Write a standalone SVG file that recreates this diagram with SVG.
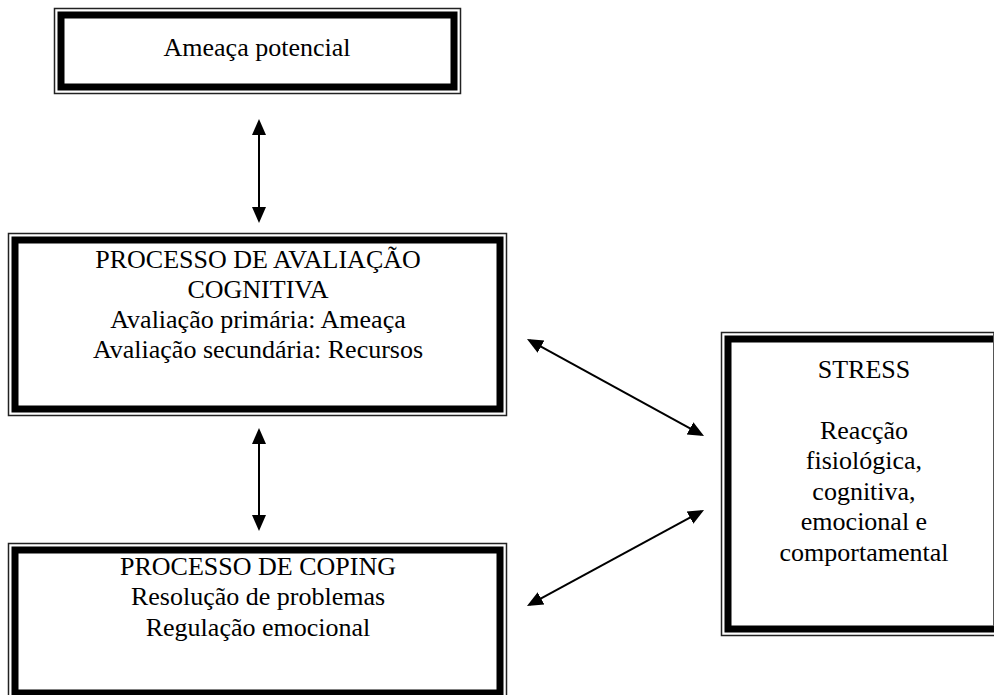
<svg xmlns="http://www.w3.org/2000/svg" width="994" height="695" viewBox="0 0 994 695">
  <defs>
    <style>
      .bg { fill: #ffffff; }
      .thin { fill: none; stroke: #222; stroke-width: 1.5; }
      .thick { fill: none; stroke: #000; stroke-width: 7; }
      .label { font-family: "Liberation Serif", "Times New Roman", serif; font-size: 26px; fill: #000; text-anchor: middle; }
      .link { stroke: #000; stroke-width: 2; fill: none; marker-start: url(#head); marker-end: url(#head); }
    </style>
    <marker id="head" markerUnits="userSpaceOnUse" markerWidth="16" markerHeight="16" viewBox="0 0 16 16" refX="13" refY="8" orient="auto-start-reverse">
      <path d="M0,1 L16,8 L0,15 Z" fill="#000"/>
    </marker>
  </defs>

  <rect class="bg" x="0" y="0" width="994" height="695"/>

  <!-- Threat -->
  <g id="ameaca">
    <rect class="thin" x="54.5" y="8.5" width="406" height="85"/>
    <rect class="thick" x="61" y="15" width="393" height="72"/>
    <text class="label" x="257" y="56">Ameaça potencial</text>
  </g>

  <!-- Cognitive appraisal -->
  <g id="avaliacao">
    <rect class="thin" x="8.5" y="233.5" width="498" height="182"/>
    <rect class="thick" x="15" y="240" width="485" height="169"/>
    <text class="label" x="258" y="268">PROCESSO DE AVALIAÇÃO</text>
    <text class="label" x="258" y="298">COGNITIVA</text>
    <text class="label" x="258" y="328">Avaliação primária: Ameaça</text>
    <text class="label" x="258" y="358">Avaliação secundária: Recursos</text>
  </g>

  <!-- Coping -->
  <g id="coping">
    <rect class="thin" x="8.5" y="543.5" width="498" height="160"/>
    <rect class="thick" x="15" y="550" width="485" height="143"/>
    <text class="label" x="258" y="575">PROCESSO DE COPING</text>
    <text class="label" x="258" y="605">Resolução de problemas</text>
    <text class="label" x="258" y="636">Regulação emocional</text>
  </g>

  <!-- Stress -->
  <g id="stress">
    <rect class="thin" x="721.5" y="332.5" width="300" height="303"/>
    <rect class="thick" x="728" y="339" width="300" height="290"/>
    <line x1="993.5" y1="333" x2="993.5" y2="626" stroke="#555" stroke-width="1"/>
    <text class="label" x="864" y="378">STRESS</text>
    <text class="label" x="864" y="439">Reacção</text>
    <text class="label" x="864" y="469">fisiológica,</text>
    <text class="label" x="864" y="500">cognitiva,</text>
    <text class="label" x="864" y="530">emocional e</text>
    <text class="label" x="864" y="561">comportamental</text>
  </g>

  <!-- Two-way links -->
  <g id="connectors">
    <line class="link" x1="259" y1="122" x2="259" y2="220"/>
    <line class="link" x1="259" y1="431" x2="259" y2="528"/>
    <line class="link" x1="529.6" y1="340.4" x2="701.4" y2="434.6"/>
    <line class="link" x1="701.4" y1="511.4" x2="529.6" y2="604.6"/>
  </g>
</svg>
